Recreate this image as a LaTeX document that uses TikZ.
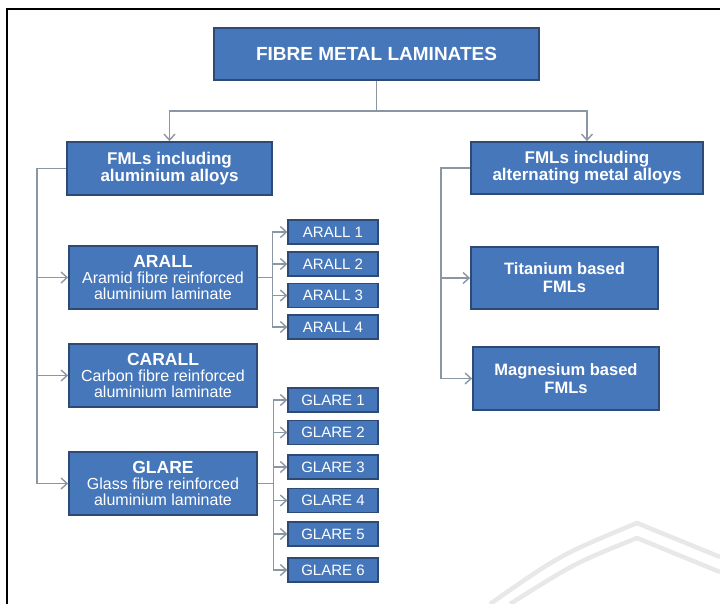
\documentclass[tikz,border=0pt]{standalone}
\usepackage{fontspec}
\setmainfont{Liberation Sans}
\usetikzlibrary{arrows.meta}
\definecolor{fmlblue}{HTML}{4677BB}
\definecolor{fmledge}{HTML}{2C4A73}
\definecolor{linkgray}{HTML}{8B96A5}
\definecolor{markgray}{HTML}{E8E8E8}

\begin{document}
\begin{tikzpicture}[x=1pt,y=-1pt,
  fmlbox/.style={draw=fmledge, line width=1.8pt, fill=fmlblue, text=white,
    align=center, inner sep=0pt},
  headbox/.style={fmlbox, font=\fontsize{17}{17}\selectfont\bfseries},
  typebox/.style={fmlbox, minimum width=188pt, minimum height=63pt,
    font=\fontsize{16}{16}\selectfont},
  gradebox/.style={fmlbox, line width=1.2pt, minimum width=90pt,
    minimum height=24pt, font=\fontsize{15}{15}\selectfont},
  link/.style={draw=linkgray, line width=1.4pt},
  linkarrow/.style={link, -{Straight Barb[length=6pt,width=11pt]}}
]
\useasboundingbox (0,0) rectangle (720,604);

% frame and watermark
\draw[markgray, line width=4.5pt] (490,604) .. controls (560,555) .. (637,523) -- (720,557);
\draw[markgray, line width=4.5pt] (510,604) .. controls (575,563) .. (637,538) -- (720,572);
\draw[line width=2.6pt] (7,604) -- (7,9) -- (720,9);

% root and families
\node[headbox, minimum width=325pt, minimum height=52pt,
  font=\fontsize{19}{19}\selectfont\bfseries] (fml) at (376.5,54) {FIBRE METAL LAMINATES};
\node[headbox, minimum width=205pt, minimum height=53pt] (alu) at (169.5,168.5)
  {FMLs including\\aluminium alloys};
\node[headbox, minimum width=232pt, minimum height=52pt] (alt) at (587,168)
  {FMLs including\\alternating metal alloys};

% aluminium based types
\node[typebox] (arall) at (163,277.5)
  {\textbf{\fontsize{17.5}{17}\selectfont ARALL}\\Aramid fibre reinforced\\aluminium laminate};
\node[typebox] (carall) at (163,375.5)
  {\textbf{\fontsize{17.5}{17}\selectfont CARALL}\\Carbon fibre reinforced\\aluminium laminate};
\node[typebox] (glare) at (163,483.5)
  {\textbf{\fontsize{17.5}{17}\selectfont GLARE}\\Glass fibre reinforced\\aluminium laminate};

% other metal types
\node[headbox, font=\fontsize{16.5}{18}\selectfont\bfseries,
  minimum width=187pt, minimum height=62pt] (ti) at (564.5,278) {Titanium based\\FMLs};
\node[headbox, font=\fontsize{16.5}{18}\selectfont\bfseries,
  minimum width=186pt, minimum height=63pt] (mg) at (566,378.5) {Magnesium based\\FMLs};

% grades
\foreach \n/\y in {1/232,2/264,3/295.5,4/327}
  \node[gradebox] (arall\n) at (333,\y) {ARALL \n};
\foreach \n/\y in {1/400,2/432.5,3/467,4/500.5,5/534,6/570}
  \node[gradebox] (glare\n) at (333,\y) {GLARE \n};

% connectors
\coordinate (split) at (376.5,111);
\draw[linkarrow] (fml.south) -- (split) -| (alu.north);
\draw[linkarrow] (fml.south) -- (split) -| (alt.north);

\coordinate (alubus) at (37,483.5);
\draw[link] (alu.west) -| (alubus);
\foreach \b in {arall,carall,glare}
  \draw[linkarrow] (alubus |- \b.west) -- (\b.west);

\coordinate (altbus) at (441,378.5);
\draw[link] (alt.west) -| (altbus);
\foreach \b in {ti,mg}
  \draw[linkarrow] (altbus |- \b.west) -- (\b.west);

\foreach \n in {1,...,4}
  \draw[linkarrow] (arall.east) -| ([xshift=-15pt]arall\n.west) -- (arall\n.west);
\foreach \n in {1,...,6}
  \draw[linkarrow] (glare.east) -| ([xshift=-14pt]glare\n.west) -- (glare\n.west);
\end{tikzpicture}
\end{document}
